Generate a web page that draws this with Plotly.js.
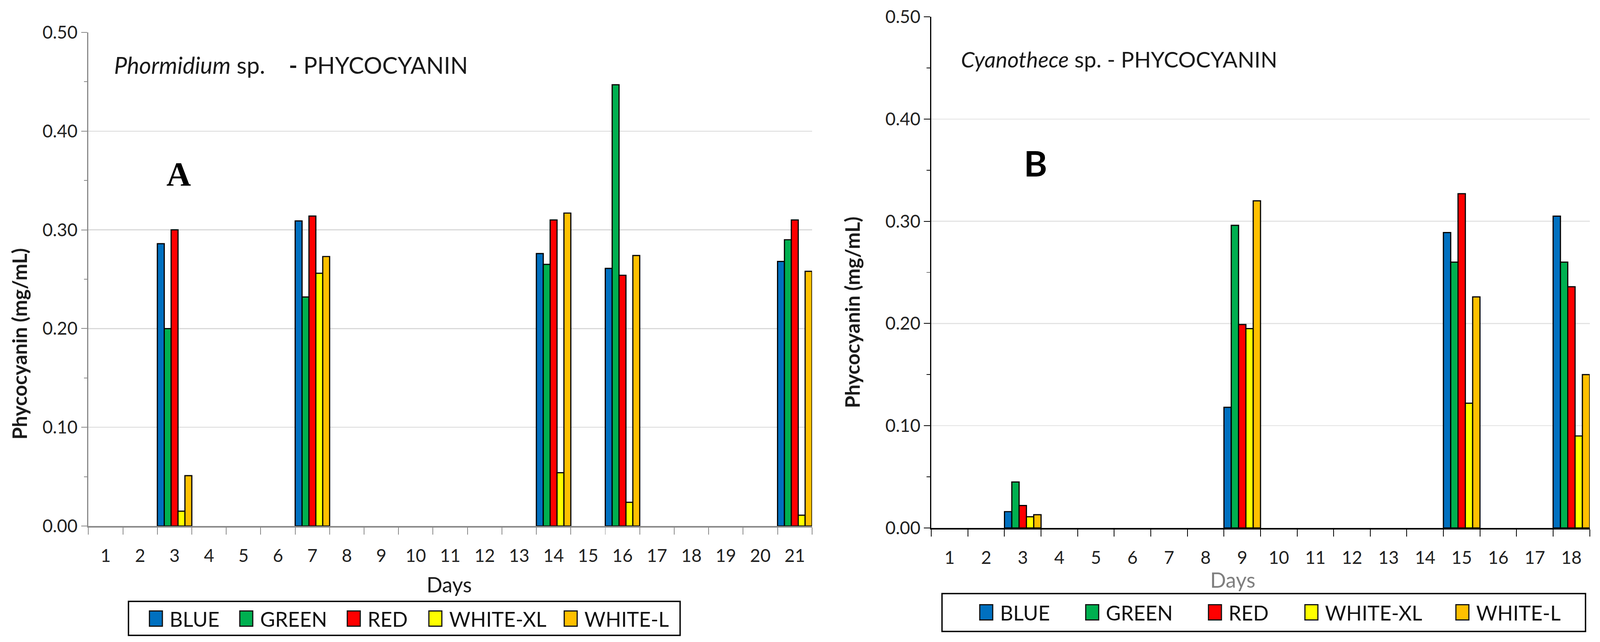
<!DOCTYPE html>
<html>
<head>
<meta charset="utf-8">
<script src="https://cdn.plot.ly/plotly-3.0.1.min.js"></script>
<style>
  html, body { margin: 0; padding: 0; background: #ffffff; overflow: hidden; }
  #chart { position: absolute; left: 0; top: 0; }
</style>
</head>
<body>
<div id="chart"></div>
<script>
// ---------------- data ----------------
const SERIES_NAMES = ["BLUE", "GREEN", "RED", "WHITE-XL", "WHITE-L"];

// Panel A : Phormidium sp.
const DAYS_A = [1, 2, 3, 4, 5, 6, 7, 8, 9, 10, 11, 12, 13, 14, 15, 16, 17, 18, 19, 20, 21];
const MEASURED_DAYS_A = [3, 7, 14, 16, 21];
const A_BLUE     = [0.286, 0.309, 0.276, 0.261, 0.268];
const A_GREEN    = [0.200, 0.232, 0.265, 0.447, 0.290];
const A_RED      = [0.300, 0.314, 0.310, 0.254, 0.310];
const A_WHITE_XL = [0.015, 0.256, 0.054, 0.024, 0.011];
const A_WHITE_L  = [0.051, 0.273, 0.317, 0.274, 0.258];

// Panel B : Cyanothece sp.
const DAYS_B = [1, 2, 3, 4, 5, 6, 7, 8, 9, 10, 11, 12, 13, 14, 15, 16, 17, 18];
const MEASURED_DAYS_B = [3, 9, 15, 18];
const B_BLUE     = [0.016, 0.118, 0.289, 0.305];
const B_GREEN    = [0.045, 0.296, 0.260, 0.260];
const B_RED      = [0.022, 0.199, 0.327, 0.236];
const B_WHITE_XL = [0.011, 0.195, 0.122, 0.090];
const B_WHITE_L  = [0.013, 0.320, 0.226, 0.150];

const Y_TICKS = [0, 0.1, 0.2, 0.3, 0.4, 0.5];

// ---------------- styles / positions ----------------
const SERIES_COLORS = ["#0070C0", "#00B050", "#FF0000", "#FFFF00", "#FFC000"];
const REF_W = 4197, REF_H = 1644;
const VW = window.innerWidth || REF_W, VH = window.innerHeight || REF_H;
const S = Math.sqrt((VW / REF_W) * (VH / REF_H));   // pixel scale for sizes
const s = v => v * S;
const px = v => v / REF_W;          // reference pixel -> paper (horizontal)
const py = v => 1 - v / REF_H;      // reference pixel from top -> paper (vertical)

// legend layout (reference pixels)
const LEGEND_A_BOX = { x0: 337, x1: 1784, y0: 1540, y1: 1627 };
const LEGEND_B_BOX = { x0: 2471, x1: 4159, y0: 1520, y1: 1617 };
const LEGEND_A_SWATCH_X = [392, 629, 911, 1125, 1480];
const LEGEND_B_SWATCH_X = [2570, 2848, 3170, 3423, 3819];
const LEGEND_A_CY = 1584, LEGEND_B_CY = 1568;
const SW_W = 34, SW_H = 39, SW_GAP = 17;

const BAR_SLOT = 1 / SERIES_NAMES.length;   // each bar fills a fifth of a day slot

const A_SERIES = [A_BLUE, A_GREEN, A_RED, A_WHITE_XL, A_WHITE_L];
const B_SERIES = [B_BLUE, B_GREEN, B_RED, B_WHITE_XL, B_WHITE_L];

const data = [];
function addPanel(days, series, xa, ya) {
  SERIES_NAMES.forEach((name, i) => {
    data.push({
      type: "bar", name: name, x: days, y: series[i],
      xaxis: xa, yaxis: ya, showlegend: false,
      width: BAR_SLOT, offset: -0.5 + i * BAR_SLOT,
      marker: { color: SERIES_COLORS[i], line: { color: "#000000", width: s(3) } }
    });
  });
}
addPanel(MEASURED_DAYS_A, A_SERIES, "x", "y");
addPanel(MEASURED_DAYS_B, B_SERIES, "x2", "y2");

const tickFont = { family: "Lato", size: s(46), color: "#222222" };

function xAxis(days, dom, lineColor, anchor) {
  return {
    domain: dom, anchor: anchor, type: "linear",
    range: [days[0] - 0.5, days[days.length - 1] + 0.5],
    tickmode: "array", tickvals: days, ticktext: days.map(String),
    showline: true, linecolor: lineColor, linewidth: s(4),
    // long invisible major ticks push the day labels down; visible short ticks sit between days
    ticks: "outside", ticklen: s(34), tickwidth: s(2), tickcolor: "rgba(0,0,0,0)",
    minor: { tickmode: "linear", tick0: 0.5, dtick: 1, ticks: "outside", ticklen: s(18),
             tickwidth: s(2), tickcolor: lineColor, showgrid: false },
    showgrid: false, zeroline: false, tickfont: tickFont, fixedrange: true
  };
}
function yAxis(dom, lineColor, gridColor, anchor) {
  return {
    domain: dom, anchor: anchor, range: [0, 0.5], tickmode: "array", tickvals: Y_TICKS,
    tickformat: ".2f", ticksuffix: "\u00a0",
    showline: true, linecolor: lineColor, linewidth: s(3),
    ticks: "outside", ticklen: s(16), tickwidth: s(2), tickcolor: lineColor,
    minor: { tickmode: "linear", tick0: 0, ticks: "outside", ticklen: s(9), tickwidth: s(2),
             tickcolor: lineColor, dtick: 0.05, showgrid: false },
    showgrid: true, gridcolor: gridColor, gridwidth: s(2.5), zeroline: false,
    tickfont: tickFont, fixedrange: true
  };
}

// custom legends (box, swatches and labels) matching the reference legend boxes
const shapes = [];
const annotations = [];
function addLegend(box, swatchX, cy) {
  shapes.push({ type: "rect", xref: "paper", yref: "paper",
    x0: px(box.x0), x1: px(box.x1), y0: py(box.y1), y1: py(box.y0),
    line: { color: "#000000", width: s(3.5) }, fillcolor: "#ffffff", layer: "above" });
  SERIES_NAMES.forEach((name, i) => {
    shapes.push({ type: "rect", xref: "paper", yref: "paper",
      x0: px(swatchX[i]), x1: px(swatchX[i] + SW_W), y0: py(cy + SW_H / 2), y1: py(cy - SW_H / 2),
      line: { color: "#111111", width: s(3) }, fillcolor: SERIES_COLORS[i], layer: "above" });
    annotations.push({ xref: "paper", yref: "paper", x: px(swatchX[i] + SW_W + SW_GAP), y: py(cy),
      xanchor: "left", yanchor: "middle", showarrow: false, text: name,
      font: { family: "Lato", size: s(53), color: "#111111" } });
  });
}
addLegend(LEGEND_A_BOX, LEGEND_A_SWATCH_X, LEGEND_A_CY);
addLegend(LEGEND_B_BOX, LEGEND_B_SWATCH_X, LEGEND_B_CY);

annotations.push(
  { xref: "paper", yref: "paper", x: px(297), y: py(166), xanchor: "left", yanchor: "middle", showarrow: false,
    text: "<i>Phormidium</i> sp.&nbsp;&nbsp;&nbsp; <b>-</b> PHYCOCYANIN", font: { family: "Lato", size: s(60), color: "#1a1a1a" } },
  { xref: "paper", yref: "paper", x: px(2519), y: py(151), xanchor: "left", yanchor: "middle", showarrow: false,
    text: "<i>Cyanothece</i> sp. - PHYCOCYANIN", font: { family: "Lato", size: s(57), color: "#1a1a1a" } },
  { xref: "paper", yref: "paper", x: px(469), y: py(446), xanchor: "center", yanchor: "middle", showarrow: false,
    text: "<b>A</b>", font: { family: "Liberation Serif", size: s(88), color: "#000000" } },
  { xref: "paper", yref: "paper", x: px(2716), y: py(417), xanchor: "center", yanchor: "middle", showarrow: false,
    text: "<b>B</b>", font: { family: "Lato", size: s(92), color: "#000000" } },
  { xref: "paper", yref: "paper", x: px(50), y: py(880), xanchor: "center", yanchor: "middle", showarrow: false,
    textangle: -90, text: "<b>Phycocyanin (mg/mL)</b>", font: { family: "Lato", size: s(52), color: "#1a1a1a" } },
  { xref: "paper", yref: "paper", x: px(2235), y: py(800), xanchor: "center", yanchor: "middle", showarrow: false,
    textangle: -90, text: "<b>Phycocyanin (mg/mL)</b>", font: { family: "Lato", size: s(52), color: "#1a1a1a" } },
  { xref: "paper", yref: "paper", x: px(1178), y: py(1496), xanchor: "center", yanchor: "middle", showarrow: false,
    text: "Days", font: { family: "Lato", size: s(54), color: "#1a1a1a" } },
  { xref: "paper", yref: "paper", x: px(3234), y: py(1484), xanchor: "center", yanchor: "middle", showarrow: false,
    text: "Days", font: { family: "Lato", size: s(54), color: "#7f7f7f" } }
);

const layout = {
  width: VW, height: VH,
  margin: { l: 0, r: 0, t: 0, b: 0, autoexpand: false },
  paper_bgcolor: "#ffffff", plot_bgcolor: "#ffffff",
  font: { family: "Lato", size: s(46), color: "#222222" },
  barmode: "group", bargap: 0, bargroupgap: 0,
  showlegend: false,
  xaxis:  xAxis(DAYS_A, [px(232), px(2130)], "#898989", "y"),
  yaxis:  yAxis([py(1347), py(83)], "#898989", "#d9d9d9", "x"),
  xaxis2: xAxis(DAYS_B, [px(2443), px(4170)], "#000000", "y2"),
  yaxis2: yAxis([py(1352), py(43)], "#000000", "#e3e3e3", "x2"),
  shapes: shapes,
  annotations: annotations
};

const gdDiv = document.getElementById("chart");
gdDiv.style.width = VW + "px";
gdDiv.style.height = VH + "px";
Plotly.newPlot(gdDiv, data, layout, { staticPlot: true, displayModeBar: false });
</script>
</body>
</html>
